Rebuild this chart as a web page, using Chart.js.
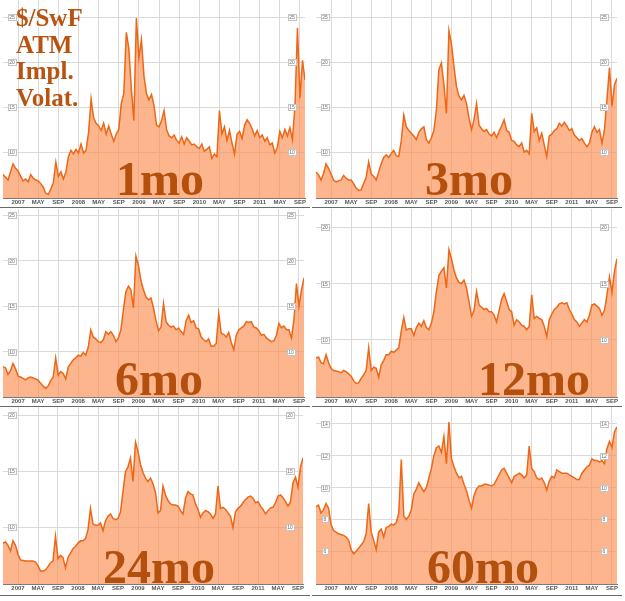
<!DOCTYPE html>
<html>
<head>
<meta charset="utf-8">
<script src="https://cdn.jsdelivr.net/npm/chart.js@4.4.0/dist/chart.umd.min.js"></script>
<style>
  body { margin: 0; background: #fff; }
  #wrap { position: relative; width: 625px; height: 601px; overflow: hidden; }
  .panel { position: absolute; width: 310px; border-bottom: 1px solid #6a6a6a; }
  .panel canvas { position: absolute; left: 0; top: 0; }
  .big { position: absolute; font-family: 'Liberation Serif', 'Times New Roman', serif; font-weight: bold;
         color: #b4500e; font-size: 48px; line-height: 48px; white-space: nowrap; }
  #title { left: 16px; top: 5px; font-size: 25px; line-height: 26.7px; color: #b8540f; }
</style>
</head>
<body>
<div id="wrap">
  <div class="panel" style="left:0;top:0;height:207px"><canvas id="c1" width="310" height="207"></canvas></div>
  <div class="panel" style="left:312px;top:0;height:207px"><canvas id="c2" width="310" height="207"></canvas></div>
  <div class="panel" style="left:0;top:208px;height:198px"><canvas id="c3" width="310" height="198"></canvas></div>
  <div class="panel" style="left:312px;top:208px;height:198px"><canvas id="c4" width="310" height="198"></canvas></div>
  <div class="panel" style="left:0;top:407px;height:188px"><canvas id="c5" width="310" height="188"></canvas></div>
  <div class="panel" style="left:312px;top:407px;height:188px"><canvas id="c6" width="310" height="188"></canvas></div>

  <div class="big" id="title">$/SwF<br>ATM<br>Impl.<br>Volat.</div>
  <div class="big" style="left:116px;top:155px">1mo</div>
  <div class="big" style="left:425px;top:155px">3mo</div>
  <div class="big" style="left:115px;top:355px">6mo</div>
  <div class="big" style="left:478px;top:355px">12mo</div>
  <div class="big" style="left:103px;top:543px">24mo</div>
  <div class="big" style="left:427px;top:543px">60mo</div>
</div>

<script>
// months counted from Jan 2007, sampled every half month (Oct 2006 .. Oct 2011)
const months = [];
for (let m = -3; m <= 57; m += 0.5) months.push(m);

const tickMonths = [0, 4, 8, 12, 16, 20, 24, 28, 32, 36, 40, 44, 48, 52, 56];
const tickLabels = ['2007', 'MAY', 'SEP', '2008', 'MAY', 'SEP', '2009', 'MAY', 'SEP',
                    '2010', 'MAY', 'SEP', '2011', 'MAY', 'SEP'];

const ticks5to25 = [10, 15, 20, 25];
const ticks5to20 = [10, 15, 20];
const ticks4to14 = [6, 8, 10, 12, 14];

const vol1m = [
  7.5, 7.2, 6.9, 7.8, 8.7, 8.2, 7.9, 7.3, 6.8, 7.0,
  6.7, 7.5, 7.1, 6.9, 6.8, 6.5, 6.1, 5.4, 5.3, 5.9,
  6.6, 8.9, 7.3, 7.8, 7.0, 7.8, 9.5, 10.2, 9.8, 10.3,
  9.9, 10.9, 9.9, 10.2, 12.2, 15.9, 13.8, 13.2, 12.9, 12.4,
  13.2, 12.0, 12.9, 12.0, 11.2, 12.0, 12.5, 15.4, 16.5, 23.3,
  21.5, 17.0, 13.5, 24.9, 20.5, 22.5, 18.5, 16.5, 15.8, 16.4,
  15.2, 13.0, 12.8, 13.5, 14.6, 12.5, 11.8, 11.6, 11.9, 11.3,
  11.0, 11.7, 10.9, 11.6, 11.2, 10.8, 10.9, 10.6, 10.4, 10.9,
  10.1, 10.3, 10.6, 9.3, 9.8, 9.5, 14.6, 12.0, 12.8, 11.3,
  12.4, 11.0, 9.8, 12.0, 12.3, 11.5, 13.0, 13.6, 13.2, 12.6,
  11.8, 12.4, 11.6, 11.9, 11.2, 11.6, 10.8, 11.0, 9.9, 10.5,
  12.3, 11.6, 12.5, 11.8, 12.7, 11.4, 15.0, 23.8, 16.0, 20.2,
  18.0
];

const vol3m = [
  7.8, 7.5, 6.9, 7.6, 8.7, 8.2, 7.6, 6.9, 6.7, 6.8,
  6.9, 7.4, 7.1, 6.9, 6.9, 6.5, 6.0, 5.75, 5.8, 6.5,
  7.2, 8.9, 7.6, 7.3, 6.9, 7.8, 8.7, 9.4, 9.7, 9.4,
  9.85, 10.2, 9.6, 9.5, 11.3, 14.1, 12.8, 12.4, 12.1, 11.8,
  11.4, 12.2, 12.6, 12.8, 11.4, 11.0, 11.6, 12.4, 14.7, 19.2,
  19.9, 17.5, 14.3, 23.5, 22.0, 19.5, 17.3, 16.2, 15.8, 16.3,
  15.4, 13.8, 12.5, 13.6, 15.4, 13.0, 12.6, 12.3, 12.5, 12.0,
  11.8, 12.2, 11.6, 12.3, 12.9, 13.6, 12.4, 12.2, 11.3, 11.2,
  10.8, 10.6, 11.0, 10.0, 10.2, 9.8, 14.3, 12.3, 12.7, 11.3,
  12.1, 10.8, 9.5, 11.8, 12.0, 12.4, 12.6, 13.2, 12.9, 13.3,
  12.9, 12.4, 12.6, 11.9, 11.6, 11.3, 11.5, 11.0, 10.6, 11.0,
  12.2, 12.8, 12.2, 12.5, 11.0, 12.5, 15.8, 19.4, 15.1, 17.5,
  18.2
];

const vol6m = [
  8.35, 8.2, 7.5, 7.9, 8.7, 8.1, 7.3, 7.2, 7.05, 6.9,
  7.1, 7.2, 7.1, 7.0, 6.85, 6.5, 6.2, 5.95, 6.2, 6.8,
  7.2, 9.3, 7.4, 7.8, 7.6, 7.0, 8.3, 8.7, 9.1, 9.3,
  9.6, 9.5, 9.9, 9.6, 10.5, 12.4, 11.6, 11.4, 11.1, 11.0,
  11.3, 12.2, 11.9, 12.2, 11.8, 11.1, 11.5, 12.4, 14.6, 16.6,
  17.2, 16.8, 14.8, 20.5, 19.5, 17.8, 16.8, 16.0, 15.7, 15.9,
  14.8, 13.4, 12.3, 12.7, 15.3, 13.3, 12.9, 12.7, 12.8, 12.4,
  12.6, 12.2, 11.9, 13.4, 14.0, 13.2, 13.4, 12.6, 12.5, 11.6,
  11.3, 11.1, 11.4, 10.6, 10.6, 10.9, 14.2, 12.0, 11.9, 11.6,
  12.1, 11.0, 10.2, 11.8, 12.4, 12.6, 12.8, 13.3, 13.2, 13.3,
  12.7, 12.6, 12.3, 11.8, 11.9, 11.5, 11.3, 11.1, 11.2, 11.8,
  13.1, 12.6, 12.8, 12.4, 12.4, 11.5, 13.5, 17.5, 15.0, 16.8,
  18.1
];

const vol12m = [
  8.4, 8.5, 8.0, 7.9, 8.7, 8.0, 7.5, 7.3, 7.25, 7.2,
  7.1, 7.3, 7.2, 7.0, 6.8, 6.4, 6.15, 6.2, 6.6, 6.9,
  7.3, 9.3, 7.3, 7.6, 7.5, 6.7, 7.8, 8.2, 8.7, 8.7,
  9.0, 8.9, 9.1, 9.3, 10.8, 12.0, 10.9, 11.0, 11.0, 10.4,
  11.1, 11.5, 11.2, 11.7, 11.1, 10.9, 11.5, 12.5, 14.3, 15.7,
  16.1, 16.4, 14.6, 18.0, 17.2, 16.2, 15.5, 15.1, 15.0, 15.3,
  14.6, 13.4, 12.1, 12.6, 14.3, 13.1, 12.9, 12.7, 12.8, 12.5,
  12.5, 12.2, 11.6, 12.6, 13.6, 14.1, 13.4, 12.7, 12.5, 11.3,
  11.8, 11.6, 11.3, 11.2, 10.9, 11.2, 14.0, 11.9, 12.1, 11.9,
  11.8, 11.2, 10.3, 11.8, 12.3, 12.7, 12.9, 13.2, 13.3, 13.2,
  13.3, 12.7, 12.3, 11.8, 11.6, 11.2, 11.5, 11.8, 11.6, 12.2,
  13.1, 13.2, 13.0, 12.8, 12.2, 12.6, 14.0, 15.6, 14.2, 16.1,
  17.2
];

const vol24m = [
  8.6, 8.7, 8.4, 7.9, 8.8, 8.4, 7.6, 7.1, 7.05, 7.0,
  7.0, 7.0, 7.0, 6.9, 6.6, 6.1, 6.1, 6.2, 6.5, 6.85,
  7.0, 9.2, 7.2, 7.5, 7.3, 6.4, 7.3, 7.7, 8.1, 8.3,
  8.6, 8.8, 8.8, 9.0, 9.8, 11.7, 10.3, 10.2, 10.2, 10.4,
  9.7, 10.6, 11.0, 11.2, 10.8, 10.7, 10.8, 11.4, 13.2, 15.0,
  15.4, 16.2, 14.1, 17.6, 16.8, 15.6, 14.9, 14.4, 14.1, 14.4,
  13.9, 13.1, 11.3, 11.5, 13.7, 12.9, 12.4, 12.1, 12.0, 12.0,
  11.9, 11.5, 11.2, 12.6, 13.2, 13.0, 12.9, 12.1, 11.6, 10.9,
  11.3, 11.5, 11.4, 11.2, 10.8, 11.2, 13.7, 11.7, 11.8, 11.6,
  11.3, 11.0, 10.0, 11.4, 11.7, 11.9, 12.2, 12.5, 12.7, 12.8,
  12.6, 12.2, 12.3, 11.9, 11.6, 11.2, 11.5, 11.75, 11.8, 12.2,
  12.8, 12.9, 12.65, 12.3, 11.9, 12.3, 14.0, 14.5, 13.6, 15.4,
  16.2
];

const vol60m = [
  8.8, 8.9, 8.4, 8.6, 9.0, 8.7, 7.7, 7.3, 7.2, 7.1,
  7.05, 7.0, 6.9, 6.7, 6.1, 5.85, 6.0, 6.2, 6.4, 6.6,
  7.1, 9.0, 7.2, 6.7, 6.1, 7.2, 7.4, 6.9, 7.5, 7.55,
  7.7, 7.65, 7.8, 8.4, 11.75, 8.2, 8.0, 8.2, 8.6, 9.6,
  9.9, 10.3, 10.0, 9.75, 10.0, 10.6, 11.2, 12.0, 12.5, 12.6,
  12.2, 13.2, 11.5, 14.1, 11.8, 11.3, 10.9, 10.6, 10.7, 10.2,
  9.8, 9.2, 8.7, 9.5, 9.9, 10.1, 10.1, 10.2, 10.2, 10.15,
  10.1, 10.2, 10.5, 10.8, 11.1, 11.2, 10.9, 10.6, 10.3, 10.7,
  10.8, 10.9, 10.8, 10.6, 10.8, 12.6, 11.2, 11.0, 10.6, 10.5,
  10.6, 10.3, 9.85, 10.4, 10.7, 10.6, 11.1, 11.0, 10.9, 10.9,
  10.9, 10.8, 10.7, 10.6, 10.5, 10.5, 10.9, 11.1, 11.3, 11.4,
  11.8, 11.7, 11.7, 11.6, 11.7, 11.5, 12.45, 12.9, 12.5, 13.5,
  13.8
];

// panel layout: canvas id, series, y ticks, y range, paddings, height of the x label band
const panels = [
  { id: 'c1', data: vol1m,  yTicks: ticks5to25, yMin: 4.9,  yMax: 26.9,  padL: 3, padR: 5, padT: 0, band: 9 },
  { id: 'c2', data: vol3m,  yTicks: ticks5to25, yMin: 4.9,  yMax: 26.9,  padL: 4, padR: 5, padT: 0, band: 9 },
  { id: 'c3', data: vol6m,  yTicks: ticks5to25, yMin: 5.0,  yMax: 25.7,  padL: 3, padR: 6, padT: 1, band: 9 },
  { id: 'c4', data: vol12m, yTicks: ticks5to20, yMin: 4.95, yMax: 21.6,  padL: 4, padR: 5, padT: 1, band: 9 },
  { id: 'c5', data: vol24m, yTicks: ticks5to20, yMin: 4.95, yMax: 20.75, padL: 3, padR: 7, padT: 0, band: 11 },
  { id: 'c6', data: vol60m, yTicks: ticks4to14, yMin: 3.95, yMax: 15.05, padL: 4, padR: 5, padT: 0, band: 11 }
];

// small boxed value labels drawn inside the plot at left and right
const yBoxes = {
  id: 'yBoxes',
  afterDatasetsDraw(chart) {
    const { ctx, chartArea, scales } = chart;
    const y = scales.y;
    ctx.save();
    ctx.font = '5px "Liberation Sans", Arial, sans-serif';
    ctx.textAlign = 'center';
    ctx.textBaseline = 'middle';
    y.ticks.forEach(t => {
      const py = Math.round(y.getPixelForValue(t.value));
      [chartArea.left + 9, chartArea.right - 13].forEach(cx => {
        const w = String(t.value).length > 1 ? 9 : 7;
        const bx = Math.round(cx - w / 2);
        ctx.fillStyle = '#ffffff';
        ctx.fillRect(bx, py - 3, w, 7);
        ctx.strokeStyle = '#c4c4c4';
        ctx.lineWidth = 1;
        ctx.strokeRect(bx + 0.5, py - 3 + 0.5, w - 1, 6);
        ctx.fillStyle = '#6e6e6e';
        ctx.fillText(t.value, cx, py + 0.5);
      });
    });
    ctx.restore();
  }
};

panels.forEach(p => {
  new Chart(document.getElementById(p.id), {
    type: 'line',
    data: {
      datasets: [{
        data: months.map((m, i) => ({ x: m, y: p.data[i] })),
        borderColor: '#ee6716',
        borderWidth: 1.5,
        backgroundColor: 'rgba(251, 143, 80, 0.66)',
        fill: 'start',
        pointRadius: 0,
        tension: 0
      }]
    },
    options: {
      responsive: false,
      animation: false,
      layout: { padding: { left: p.padL, right: p.padR, top: p.padT, bottom: 0 } },
      plugins: { legend: { display: false }, tooltip: { enabled: false } },
      scales: {
        x: {
          type: 'linear',
          min: -3,
          max: 57,
          afterBuildTicks: s => { s.ticks = tickMonths.map(v => ({ value: v })); },
          afterFit: s => { s.height = p.band; },
          grid: { color: '#dadada', drawTicks: false },
          border: { color: '#7a7a7a' },
          ticks: {
            autoSkip: false,
            maxRotation: 0,
            padding: 1,
            color: '#555',
            font: { family: "'Liberation Sans Narrow', 'Arial Narrow', 'Liberation Sans', Arial, sans-serif", size: 6, weight: 'bold' },
            callback: (v, i) => tickLabels[i]
          }
        },
        y: {
          min: p.yMin,
          max: p.yMax,
          afterBuildTicks: s => { s.ticks = p.yTicks.map(v => ({ value: v })); },
          afterFit: s => { s.width = 0; },
          grid: { color: '#dadada', drawTicks: false },
          border: { display: false },
          ticks: { display: false }
        }
      }
    },
    plugins: [yBoxes]
  });
});
</script>
</body>
</html>
